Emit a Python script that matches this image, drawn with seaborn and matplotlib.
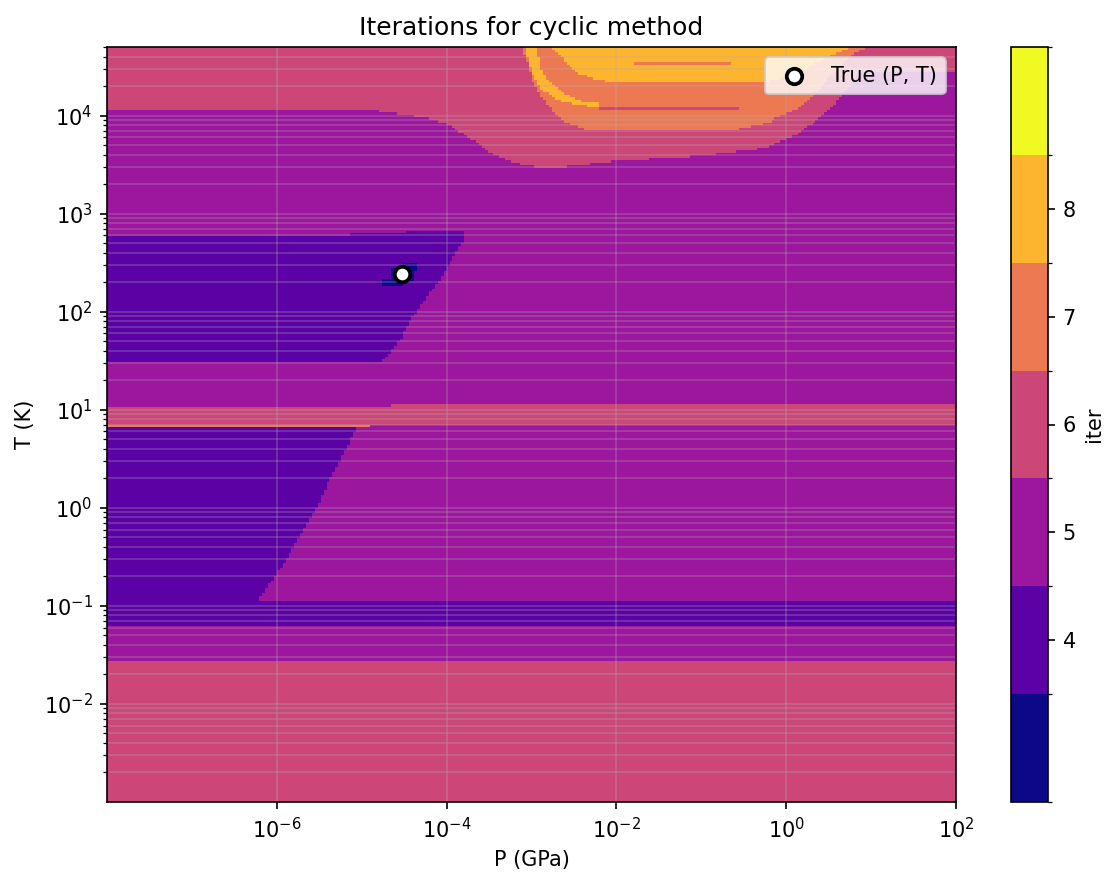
import numpy as np
import matplotlib
matplotlib.use("Agg")
import matplotlib.pyplot as plt
from matplotlib.ticker import NullLocator
import seaborn as sns

# ----------------------------------------------------------------------------
# values (log10 P [GPa], log10 T [K])
# ----------------------------------------------------------------------------
p_min, p_max = -8.0, 2.0
t_min, t_max = -3.0, np.log10(5e4)

true_P = 3.0e-5
true_T = 245.0

# default number of iterations
base_iter = 5

# top pink (6) region: above this line
b6_logp = [-8.0, -4.94, -4.59, -4.28, -4.0, -3.77, -3.49, -3.18, -2.91, -2.67, -2.08, -1.02, -0.24, 0.15, 0.54, 0.86, 2.0]
b6_logt = [4.06, 4.06, 4.02, 3.98, 3.92, 3.80, 3.62, 3.51, 3.47, 3.47, 3.53, 3.59, 3.67, 3.82, 4.08, 4.43, 4.43]

# orange (7) dome
b7_logp = [-3.12, -3.06, -2.99, -2.87, -2.75, -2.59, -2.32, -0.64, -0.24, 0.15, 0.39, 0.54, 0.78, 0.94]
b7_logt = [4.69, 4.56, 4.36, 4.18, 4.05, 3.93, 3.85, 3.85, 3.92, 4.08, 4.26, 4.43, 4.63, 4.69]

# yellow (8) cap
b8_logp = [-2.75, -2.61, -2.44, -2.20, -2.00, -1.61, -0.35, -0.08, 0.15, 0.45, 0.72]
b8_logt = [4.69, 4.56, 4.43, 4.36, 4.34, 4.33, 4.33, 4.37, 4.44, 4.58, 4.69]

# thin yellow (8) stripe on the left flank of the dome
s8_lo_logp = [-3.08, -3.00, -2.87, -2.67, -2.40, -2.20]
s8_lo_logt = [4.69, 4.43, 4.26, 4.15, 4.10, 4.08]
s8_hi_logp = [-3.08, -2.94, -2.87, -2.69, -2.44, -2.20]
s8_hi_logt = [4.76, 4.69, 4.43, 4.26, 4.15, 4.12]

# upper blob with 4 iterations (right edge logP as function of logT)
blob_hi_logt = [1.485, 1.607, 1.739, 1.882, 2.045, 2.187, 2.320, 2.554, 2.727, 2.819]
blob_hi_logp = [-4.79, -4.64, -4.53, -4.44, -4.32, -4.20, -4.08, -3.93, -3.79, -3.79]
blob_hi_top_pend = [-5.14, -4.47, -3.79]
blob_hi_top_logt = [2.778, 2.798, 2.819]

# lower blob with 4 iterations
blob_lo_logt = [-0.939, -0.908, -0.705, -0.399, 0.008, 0.283, 0.619, 0.833]
blob_lo_logp = [-6.20, -6.20, -6.02, -5.81, -5.53, -5.38, -5.17, -5.06]

# rectangular bands: iterations, logP from, logP to, logT from, logT to
band_iter = [6, 7, 4, 6, 6, 7, 3, 3, 3]
band_p0 = [-2.20, -1.81, -8.0, -8.0, -4.65, -8.0, -4.50, -4.67, -4.75]
band_p1 = [-0.55, -0.64, 2.0, -4.65, 2.0, -4.91, -4.33, -4.37, -4.53]
band_t0 = [4.062, 4.512, -1.214, 0.853, 0.853, 0.833, 2.410, 2.320, 2.255]
band_t1 = [4.095, 4.545, -0.939, 1.027, 1.057, 0.856, 2.500, 2.445, 2.345]
band_bottom = (6, -1.570)  # pink at the lowest temperatures

# ----------------------------------------------------------------------------
# build iteration map
# ----------------------------------------------------------------------------
n_p, n_t = 290, 300
logp_edges = np.linspace(p_min, p_max, n_p + 1)
logt_edges = np.linspace(t_min, t_max, n_t + 1)
lp_c = 0.5 * (logp_edges[1:] + logp_edges[:-1])
lt_c = 0.5 * (logt_edges[1:] + logt_edges[:-1])
LP, LT = np.meshgrid(lp_c, lt_c)

Z = np.full(LP.shape, base_iter)

Z[LT > np.interp(LP, b6_logp, b6_logt)] = 6
Z[LT > np.interp(LP, b7_logp, b7_logt, left=np.inf, right=np.inf)] = 7
Z[LT > np.interp(LP, b8_logp, b8_logt, left=np.inf, right=np.inf)] = 8
lo = np.interp(LP, s8_lo_logp, s8_lo_logt, left=np.inf, right=np.inf)
hi = np.interp(LP, s8_hi_logp, s8_hi_logt, left=-np.inf, right=-np.inf)
Z[(LT > lo) & (LT < hi)] = 8

# upper blob
edge = np.interp(LT, blob_hi_logt, blob_hi_logp)
idx = np.searchsorted(blob_hi_top_pend, LP).clip(max=len(blob_hi_top_pend) - 1)
top = np.array(blob_hi_top_logt)[idx]
Z[(LT >= blob_hi_logt[0]) & (LT <= top) & (LP < edge)] = 4

# lower blob
edge = np.interp(LT, blob_lo_logt, blob_lo_logp)
Z[(LT >= blob_lo_logt[0]) & (LT <= blob_lo_logt[-1]) & (LP < edge)] = 4

for v, p0, p1, t0, t1 in zip(band_iter, band_p0, band_p1, band_t0, band_t1):
    Z[(LP >= p0) & (LP <= p1) & (LT >= t0) & (LT <= t1)] = v
Z[LT < band_bottom[1]] = band_bottom[0]

# ----------------------------------------------------------------------------
# plot
# ----------------------------------------------------------------------------
fig = plt.figure(figsize=(1119 / 150, 885 / 150), dpi=150)
ax = fig.add_axes([107 / 1119, 1 - 802 / 885, 849 / 1119, 755 / 885])
cax = fig.add_axes([1011 / 1119, 1 - 802 / 885, 37 / 1119, 755 / 885])

cmap = plt.get_cmap("plasma", 7)
mesh = ax.pcolormesh(10 ** logp_edges, 10 ** logt_edges, Z, cmap=cmap,
                     vmin=2.5, vmax=9.5, shading="flat")

sns.scatterplot(x=[true_P], y=[true_T], ax=ax, s=55, color="white",
                edgecolor="black", linewidth=1.8, label="True (P, T)", zorder=5)

ax.set_xscale("log")
ax.set_yscale("log")
ax.set_xlim(10 ** p_min, 10 ** p_max)
ax.set_ylim(10 ** t_min, 10 ** t_max)
ax.set_xticks([1e-6, 1e-4, 1e-2, 1e0, 1e2])
ax.xaxis.set_minor_locator(NullLocator())
ax.set_yticks([1e-2, 1e-1, 1e0, 1e1, 1e2, 1e3, 1e4])
ax.grid(True, which="both", alpha=0.3)
ax.set_xlabel("P (GPa)")
ax.set_ylabel("T (K)")
ax.set_title("Iterations for cyclic method")
ax.legend(loc="upper right")

cbar = fig.colorbar(mesh, cax=cax)
cbar.set_ticks([4, 5, 6, 7, 8])
cbar.set_ticks(np.arange(2.5, 10, 1), minor=True)
cbar.set_label("iter")

fig.savefig("out.png", dpi=150)
